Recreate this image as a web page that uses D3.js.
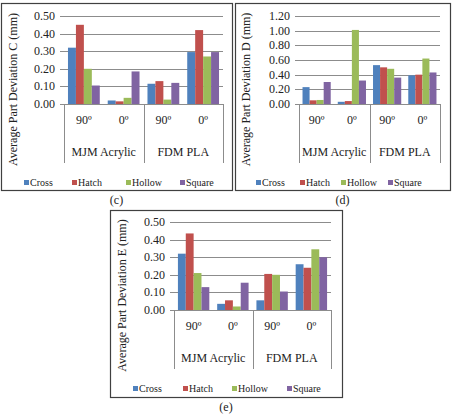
<!DOCTYPE html>
<html>
<head>
<meta charset="utf-8">
<script src="https://cdn.jsdelivr.net/npm/d3@7"></script>
<style>
  body { margin: 0; background: #fff; }
  svg text { fill: #222; }
</style>
</head>
<body>
<div id="chart"></div>
<script>
const width = 454;
const height = 414;

// Data
const series = ["Cross", "Hatch", "Hollow", "Square"];
const colors = ["#4F81BD", "#C0504D", "#9BBB59", "#8064A2"];
const groups = ["MJM Acrylic", "FDM PLA"];
const angles = ["90º", "0º"];

// values per category (MJM 90, MJM 0, FDM 90, FDM 0) -> [Cross, Hatch, Hollow, Square]
const valuesC = [
  [0.32, 0.45, 0.20, 0.105],
  [0.02, 0.015, 0.035, 0.185],
  [0.115, 0.13, 0.025, 0.12],
  [0.295, 0.42, 0.27, 0.295]
];
const valuesD = [
  [0.23, 0.05, 0.055, 0.30],
  [0.03, 0.04, 1.01, 0.32],
  [0.53, 0.50, 0.48, 0.36],
  [0.39, 0.40, 0.62, 0.43]
];
const valuesE = [
  [0.32, 0.435, 0.21, 0.13],
  [0.035, 0.055, 0.02, 0.155],
  [0.055, 0.205, 0.20, 0.105],
  [0.26, 0.24, 0.345, 0.30]
];
const ticksC = [0, 0.1, 0.2, 0.3, 0.4, 0.5];
const ticksD = [0, 0.2, 0.4, 0.6, 0.8, 1.0, 1.2];
const ticksE = [0, 0.1, 0.2, 0.3, 0.4, 0.5];

const svg = d3.select("#chart")
  .append("svg")
  .attr("width", width)
  .attr("height", height);

function drawPanel(p) {
  const g = svg.append("g");

  // outer border
  g.append("rect")
    .attr("x", p.box[0] + 0.5).attr("y", p.box[1] + 0.5)
    .attr("width", p.box[2] - p.box[0]).attr("height", p.box[3] - p.box[1])
    .attr("fill", "none").attr("stroke", "#404040").attr("stroke-width", 1.2);

  const y = d3.scaleLinear()
    .domain([0, d3.max(p.ticks)])
    .range([p.bottom, p.top]);

  // gridlines
  g.selectAll(".grid")
    .data(p.ticks)
    .enter().append("line")
    .attr("x1", p.left - 4).attr("x2", p.right)
    .attr("y1", d => Math.round(y(d)) + 0.5).attr("y2", d => Math.round(y(d)) + 0.5)
    .attr("stroke", "#8c8c8c").attr("stroke-width", 1);

  // tick labels
  g.selectAll(".tick-label")
    .data(p.ticks)
    .enter().append("text")
    .attr("x", p.left - 9)
    .attr("y", d => y(d) + 4)
    .attr("text-anchor", "end")
    .attr("font-size", 12)
    .text(d => d.toFixed(2));

  // y axis title
  g.append("text")
    .attr("transform", `translate(${p.titleX},${(p.top + p.catBottom) / 2}) rotate(-90)`)
    .attr("text-anchor", "middle")
    .attr("font-size", 12)
    .text(p.title);

  // category bands
  const cats = d3.range(4);
  const x0 = d3.scaleBand()
    .domain(cats)
    .range([p.left, p.right])
    .paddingInner(0.2)
    .paddingOuter(0.1);
  const x1 = d3.scaleBand()
    .domain(series)
    .range([0, x0.bandwidth()]);

  cats.forEach(c => {
    g.selectAll(null)
      .data(p.values[c])
      .enter().append("rect")
      .attr("x", (d, i) => x0(c) + x1(series[i]))
      .attr("y", d => y(d))
      .attr("width", x1.bandwidth())
      .attr("height", d => p.bottom - y(d))
      .attr("fill", (d, i) => colors[i]);
  });

  // multi-level category axis
  const step = x0.step();
  g.append("line")
    .attr("x1", p.left).attr("x2", p.right)
    .attr("y1", p.bottom + 0.5).attr("y2", p.bottom + 0.5)
    .attr("stroke", "#8c8c8c");
  [p.left, (p.left + p.right) / 2, p.right].forEach(xv => {
    g.append("line")
      .attr("x1", Math.round(xv) + 0.5).attr("x2", Math.round(xv) + 0.5)
      .attr("y1", p.bottom).attr("y2", p.catBottom)
      .attr("stroke", "#8c8c8c");
  });
  cats.forEach(c => {
    g.append("text")
      .attr("x", x0(c) + x0.bandwidth() / 2)
      .attr("y", p.bottom + 20)
      .attr("text-anchor", "middle")
      .attr("font-size", 12)
      .text(angles[c % 2]);
  });
  groups.forEach((name, i) => {
    g.append("text")
      .attr("x", p.left + step * (2 * i + 1))
      .attr("y", p.bottom + 52)
      .attr("text-anchor", "middle")
      .attr("font-size", 12)
      .text(name);
  });

  // legend
  series.forEach((s, i) => {
    g.append("rect")
      .attr("x", p.legendX[i]).attr("y", p.legendY - 3)
      .attr("width", 5).attr("height", 5)
      .attr("fill", colors[i]);
    g.append("text")
      .attr("x", p.legendX[i] + 6)
      .attr("y", p.legendY + 3)
      .attr("font-size", 10)
      .text(s);
  });

  // panel caption
  g.append("text")
    .attr("x", (p.box[0] + p.box[2]) / 2)
    .attr("y", p.box[3] + 14)
    .attr("text-anchor", "middle")
    .attr("font-size", 12)
    .text(p.caption);
}

drawPanel({
  box: [1, 3, 232, 190],
  left: 64, right: 223, top: 16, bottom: 104, catBottom: 163,
  titleX: 17, ticks: ticksC, values: valuesC,
  title: "Average Part Deviation C (mm)",
  legendX: [24, 72, 126, 180], legendY: 183, caption: "(c)"
});
drawPanel({
  box: [235, 3, 450, 190],
  left: 299, right: 440, top: 16, bottom: 104, catBottom: 163,
  titleX: 250, ticks: ticksD, values: valuesD,
  title: "Average Part Deviation D (mm)",
  legendX: [256, 300, 341, 388], legendY: 183, caption: "(d)"
});
drawPanel({
  box: [110, 210, 342, 397],
  left: 174, right: 331, top: 222, bottom: 310, catBottom: 369,
  titleX: 126, ticks: ticksE, values: valuesE,
  title: "Average Part Deviation E (mm)",
  legendX: [133, 183, 232, 287], legendY: 389, caption: "(e)"
});
</script>
</body>
</html>
